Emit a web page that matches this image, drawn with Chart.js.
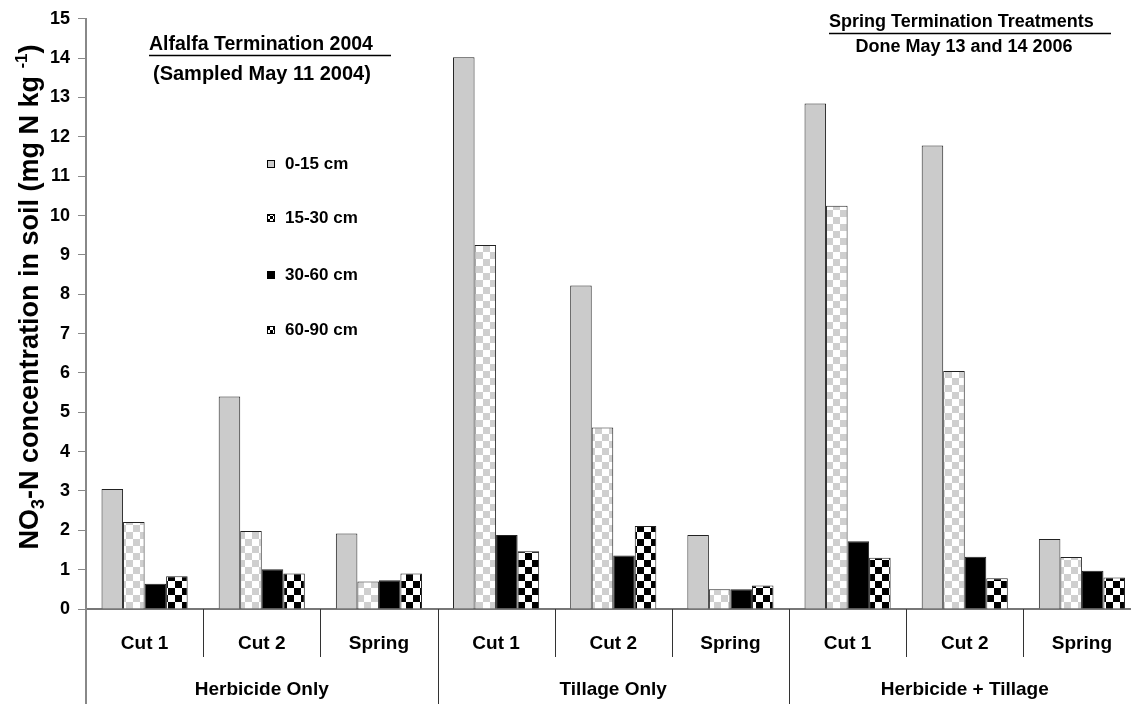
<!DOCTYPE html>
<html>
<head>
<meta charset="utf-8">
<title>NO3-N in soil</title>
<script src="https://cdn.jsdelivr.net/npm/chart.js@4"></script>
<style>
  html, body { margin: 0; padding: 0; background: #fff; overflow: hidden; }
  #wrap { width: 1150px; height: 704px; }
</style>
</head>
<body>
<div id="wrap"><canvas id="myChart" width="1150" height="704"></canvas></div>
<script>
"use strict";

// chart data
const categories = ["Cut 1", "Cut 2", "Spring", "Cut 1", "Cut 2", "Spring", "Cut 1", "Cut 2", "Spring"];
const groups = ["Herbicide Only", "Tillage Only", "Herbicide + Tillage"];
const depthLabels = ["0-15 cm", "15-30 cm", "30-60 cm", "60-90 cm"];
const depth0_15 = [3.05, 5.4, 1.92, 14.02, 8.22, 1.88, 12.85, 11.78, 1.78];
const depth15_30 = [2.21, 1.98, 0.7, 9.25, 4.61, 0.5, 10.25, 6.05, 1.32];
const depth30_60 = [0.64, 1.01, 0.73, 1.88, 1.36, 0.5, 1.72, 1.33, 0.97];
const depth60_90 = [0.83, 0.9, 0.9, 1.47, 2.11, 0.6, 1.3, 0.78, 0.8];
const yTicks = [0, 1, 2, 3, 4, 5, 6, 7, 8, 9, 10, 11, 12, 13, 14, 15];

const FONT = "'Liberation Sans', Arial, sans-serif";

const checker = (c1, c2, size) => {
  const cv = document.createElement("canvas");
  cv.width = cv.height = size * 2;
  const g = cv.getContext("2d");
  g.fillStyle = c1;
  g.fillRect(0, 0, size * 2, size * 2);
  g.fillStyle = c2;
  g.fillRect(0, 0, size, size);
  g.fillRect(size, size, size, size);
  return g.createPattern(cv, "repeat");
};

const ctx = document.getElementById("myChart").getContext("2d");
const lightCheck = checker("#ffffff", "#cfcfcf", 7);
const darkCheck = checker("#ffffff", "#000000", 7);
const fills = ["#cbcbcb", lightCheck, "#000000", darkCheck];
const legendFills = ["#cbcbcb", checker("#ffffff", "#000000", 3), "#000000", checker("#ffffff", "#000000", 3)];

const textPlugin = {
  id: "figText",
  afterDraw: (chart) => {
    const { ctx, chartArea } = chart;
    const xs = chart.scales.x;
    ctx.save();
    ctx.fillStyle = "#000";
    ctx.textBaseline = "middle";

    // category and group labels under the axis
    ctx.font = `bold 19px ${FONT}`;
    ctx.textAlign = "center";
    categories.forEach((c, i) => {
      ctx.fillText(c, xs.getPixelForValue(i), 644);
    });
    groups.forEach((g, i) => {
      const x = (xs.getPixelForValue(i * 3) + xs.getPixelForValue(i * 3 + 2)) / 2;
      ctx.fillText(g, x, 690);
    });

    // divider lines between categories
    ctx.strokeStyle = "#333";
    ctx.lineWidth = 1;
    for (let i = 0; i < categories.length - 1; i++) {
      const x = Math.round((xs.getPixelForValue(i) + xs.getPixelForValue(i + 1)) / 2) + 0.5;
      ctx.beginPath();
      ctx.moveTo(x, chartArea.bottom);
      ctx.lineTo(x, i % 3 === 2 ? 704 : 657);
      ctx.stroke();
    }
    ctx.strokeStyle = "#888";
    ctx.lineWidth = 2;
    ctx.beginPath();
    ctx.moveTo(chartArea.left, chartArea.bottom);
    ctx.lineTo(chartArea.left, 704);
    ctx.stroke();

    // titles in the plot area
    ctx.font = `bold 19.5px ${FONT}`;
    ctx.textAlign = "left";
    ctx.fillText("Alfalfa Termination 2004", 149, 45);
    ctx.font = `bold 20px ${FONT}`;
    ctx.fillText("(Sampled May 11 2004)", 153, 74);
    ctx.font = `bold 18px ${FONT}`;
    ctx.fillText("Spring Termination Treatments", 829, 22);
    ctx.textAlign = "center";
    ctx.fillText("Done May 13 and 14 2006", 964, 47);
    ctx.strokeStyle = "#000";
    ctx.lineWidth = 1.5;
    ctx.beginPath();
    ctx.moveTo(149, 55.5);
    ctx.lineTo(391, 55.5);
    ctx.moveTo(829, 33.5);
    ctx.lineTo(1111, 33.5);
    ctx.stroke();

    // legend
    ctx.textAlign = "left";
    ctx.font = `bold 17px ${FONT}`;
    const legY = [164, 218, 275, 330];
    depthLabels.forEach((lab, i) => {
      ctx.fillStyle = legendFills[i];
      ctx.fillRect(267, legY[i] - 4, 8, 8);
      ctx.strokeStyle = "#000";
      ctx.lineWidth = 1;
      ctx.strokeRect(267.5, legY[i] - 3.5, 7, 7);
      ctx.fillStyle = "#000";
      ctx.fillText(lab, 285, legY[i]);
    });

    // y-axis title with sub/superscript
    const parts = [
      { t: "NO", size: 27, dy: 0 },
      { t: "3", size: 18, dy: 6 },
      { t: "-N concentration in soil (mg N kg ", size: 27, dy: 0 },
      { t: "-1", size: 17, dy: -11 },
      { t: ")", size: 27, dy: 0 },
    ];
    let total = 0;
    parts.forEach((p) => {
      ctx.font = `bold ${p.size}px ${FONT}`;
      p.w = ctx.measureText(p.t).width;
      total += p.w;
    });
    ctx.translate(28, 297);
    ctx.rotate(-Math.PI / 2);
    ctx.textBaseline = "alphabetic";
    let x = -total / 2;
    parts.forEach((p) => {
      ctx.font = `bold ${p.size}px ${FONT}`;
      ctx.fillText(p.t, x, 10 + p.dy);
      x += p.w;
    });
    ctx.restore();
  },
};

const chartConfig = {
  type: "bar",
  data: {
    labels: categories,
    datasets: [depth0_15, depth15_30, depth30_60, depth60_90].map((d, i) => ({
      label: depthLabels[i],
      data: d,
      backgroundColor: fills[i],
      borderColor: "#222",
      borderWidth: 1,
      categoryPercentage: 0.735,
      barPercentage: 1.0,
    })),
  },
  options: {
    responsive: false,
    animation: false,
    events: [],
    layout: {
      padding: { top: 4, right: 9.5, left: 0, bottom: 0 },
    },
    plugins: {
      legend: { display: false },
      title: { display: false },
      tooltip: { enabled: false },
    },
    scales: {
      x: {
        ticks: { display: false },
        grid: { display: false },
        border: { display: true, color: "#777", width: 2 },
        afterFit: (scale) => {
          scale.height = 95;
        },
      },
      y: {
        min: 0,
        max: 15,
        afterBuildTicks: (scale) => {
          scale.ticks = yTicks.map((v) => ({ value: v }));
        },
        ticks: {
          color: "#000",
          padding: 8,
          font: { family: FONT, size: 18, weight: "bold" },
        },
        grid: {
          drawOnChartArea: false,
          drawTicks: true,
          tickLength: 8,
          color: "#888",
        },
        border: { display: true, color: "#888", width: 2 },
        afterFit: (scale) => {
          scale.width = 86;
        },
      },
    },
  },
  plugins: [textPlugin],
};

new Chart(ctx, chartConfig);
</script>
</body>
</html>
